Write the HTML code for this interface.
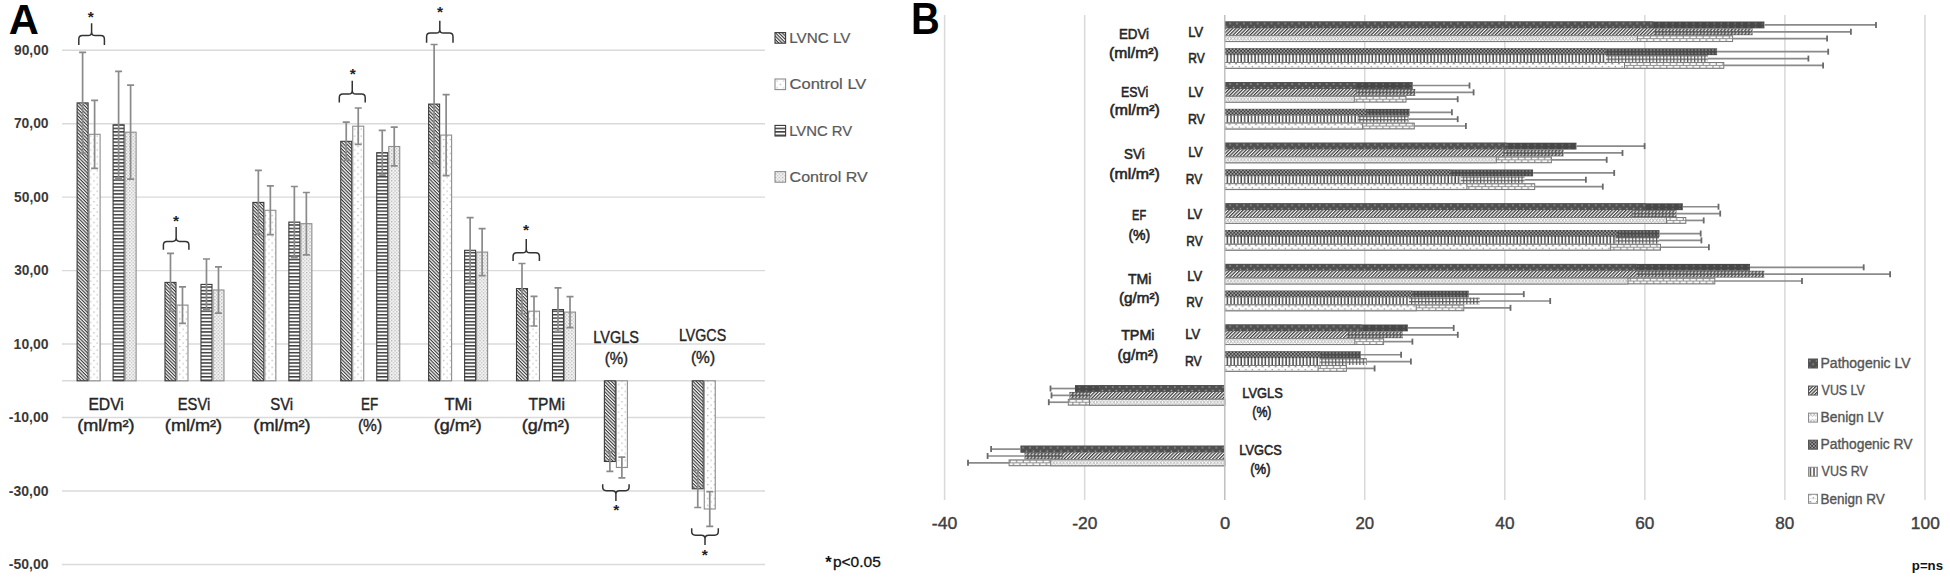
<!DOCTYPE html>
<html><head><meta charset="utf-8"><title>Figure</title>
<style>html,body{margin:0;padding:0;background:#fff;} svg{display:block;}</style></head>
<body><svg width="1950" height="580" viewBox="0 0 1950 580" font-family="'Liberation Sans', Arial, sans-serif">
<defs>
<pattern id="aLL" patternUnits="userSpaceOnUse" width="2.4" height="2.4" patternTransform="rotate(45)">
  <rect width="2.4" height="2.4" fill="#f6f6f6"/><rect y="0" width="2.4" height="1.08" fill="#363636"/></pattern>
<pattern id="aCL" patternUnits="userSpaceOnUse" width="6.6" height="6.9">
  <rect width="6.6" height="6.9" fill="#fff"/><rect x="1" y="1" width="1.2" height="1.2" fill="#aaa"/><rect x="4.3" y="4.4" width="1.2" height="1.2" fill="#b5b5b5"/></pattern>
<pattern id="aLR" patternUnits="userSpaceOnUse" width="3.45" height="3.45">
  <rect width="3.45" height="3.45" fill="#fff"/><rect y="0" width="3.45" height="1.5" fill="#3c3c3c"/></pattern>
<pattern id="aCR" patternUnits="userSpaceOnUse" width="3.4" height="3.4">
  <rect width="3.4" height="3.4" fill="#f4f4f4"/><rect x="0" y="0" width="1.3" height="1.3" fill="#b0b0b0"/><rect x="1.7" y="1.7" width="1.3" height="1.3" fill="#c4c4c4"/></pattern>

<pattern id="F1" patternUnits="userSpaceOnUse" width="6.9" height="6.9" y="0">
  <rect width="6.9" height="6.9" fill="#505050"/><rect x="1.2" y="1.3" width="1.4" height="1.4" fill="#a5a5a5"/><rect x="4.65" y="4.75" width="1.4" height="1.4" fill="#a5a5a5"/></pattern>
<pattern id="F2" patternUnits="userSpaceOnUse" width="2.44" height="3" patternTransform="rotate(45)">
  <rect width="2.44" height="3" fill="#fafafa"/><rect x="0" width="1.25" height="3" fill="#3d3d3d"/></pattern>
<pattern id="F3" patternUnits="userSpaceOnUse" width="6.7" height="6.85">
  <rect width="6.7" height="6.85" fill="#fff"/><path d="M0 1.2 L3.35 5.6 L6.7 1.2 M0 5.6 L3.35 1.2 L6.7 5.6" stroke="#a8a8a8" stroke-width="0.8" fill="none"/></pattern>
<pattern id="F4" patternUnits="userSpaceOnUse" width="3.45" height="3.45">
  <rect width="3.45" height="3.45" fill="#9c9c9c"/><rect width="1.725" height="1.725" fill="#3e3e3e"/><rect x="1.725" y="1.725" width="1.725" height="1.725" fill="#3e3e3e"/></pattern>
<pattern id="F5" patternUnits="userSpaceOnUse" width="3.45" height="3.45">
  <rect width="3.45" height="3.45" fill="#fcfcfc"/><rect x="2" width="1.45" height="3.45" fill="#464646"/></pattern>
<pattern id="F6" patternUnits="userSpaceOnUse" width="6.6" height="6.85">
  <rect width="6.6" height="6.85" fill="#fff"/><path d="M0.8 2.3 L1.9 1.3 L3.0 2.3" stroke="#666" stroke-width="0.9" fill="none"/><rect x="4.4" y="4.0" width="1.3" height="1.3" fill="#888"/><rect x="0" y="5.4" width="6.6" height="0.6" fill="#d0d0d0"/></pattern>

<pattern id="K1" patternUnits="userSpaceOnUse" width="6.9" height="6.9">
  <rect width="6.9" height="6.9" fill="#474747"/><rect x="2.5" y="1.6" width="1.2" height="1.2" fill="#8c8c8c"/><rect x="2.5" y="5" width="1.2" height="1.2" fill="#7c7c7c"/></pattern>
<pattern id="K2" patternUnits="userSpaceOnUse" width="3.45" height="3.45">
  <rect width="3.45" height="3.45" fill="#575757"/><path d="M0.6 2.6 L2.4 0.9" stroke="#f0f0f0" stroke-width="1.1"/></pattern>
<pattern id="K3" patternUnits="userSpaceOnUse" width="6.6" height="6.85">
  <rect width="6.6" height="6.85" fill="#929292"/><rect x="0.9" y="1.05" width="5.4" height="1.9" fill="#fcfcfc"/><rect x="-2.4" y="3.95" width="5.4" height="1.9" fill="#fcfcfc"/><rect x="4.2" y="3.95" width="5.4" height="1.9" fill="#fcfcfc"/></pattern>
<pattern id="K4" patternUnits="userSpaceOnUse" width="3.45" height="3.45">
  <rect width="3.45" height="3.45" fill="#4a4a4a"/><rect x="1" y="1" width="1.45" height="1.45" fill="#8e8e8e"/></pattern>
<pattern id="K5" patternUnits="userSpaceOnUse" width="3.45" height="3.425">
  <rect width="3.45" height="3.425" fill="#f8f8f8"/><rect x="0" y="0" width="3.45" height="1.2" fill="#5a5a5a"/><rect x="0" y="0" width="1.2" height="3.425" fill="#5a5a5a"/></pattern>
</defs>
<rect width="1950" height="580" fill="#fff"/>
<line x1="62" y1="50.23" x2="765" y2="50.23" stroke="#dadada" stroke-width="1.4"/>
<line x1="62" y1="123.69" x2="765" y2="123.69" stroke="#dadada" stroke-width="1.4"/>
<line x1="62" y1="197.15" x2="765" y2="197.15" stroke="#dadada" stroke-width="1.4"/>
<line x1="62" y1="270.61" x2="765" y2="270.61" stroke="#dadada" stroke-width="1.4"/>
<line x1="62" y1="344.07" x2="765" y2="344.07" stroke="#dadada" stroke-width="1.4"/>
<line x1="62" y1="417.53" x2="765" y2="417.53" stroke="#dadada" stroke-width="1.4"/>
<line x1="62" y1="490.99" x2="765" y2="490.99" stroke="#dadada" stroke-width="1.4"/>
<line x1="62" y1="564.45" x2="765" y2="564.45" stroke="#dadada" stroke-width="1.4"/>
<line x1="62" y1="380.80" x2="765" y2="380.80" stroke="#dadada" stroke-width="1.4"/>
<text x="14.02" y="54.93" font-size="13.90" font-weight="bold" fill="#3a3a3a" textLength="34.54" lengthAdjust="spacingAndGlyphs">90,00</text>
<text x="13.90" y="128.39" font-size="13.90" font-weight="bold" fill="#3a3a3a" textLength="34.66" lengthAdjust="spacingAndGlyphs">70,00</text>
<text x="14.08" y="201.85" font-size="13.90" font-weight="bold" fill="#3a3a3a" textLength="34.49" lengthAdjust="spacingAndGlyphs">50,00</text>
<text x="14.18" y="275.31" font-size="13.90" font-weight="bold" fill="#3a3a3a" textLength="34.38" lengthAdjust="spacingAndGlyphs">30,00</text>
<text x="13.62" y="348.77" font-size="13.90" font-weight="bold" fill="#3a3a3a" textLength="34.95" lengthAdjust="spacingAndGlyphs">10,00</text>
<text x="8.85" y="422.23" font-size="13.90" font-weight="bold" fill="#3a3a3a" textLength="39.72" lengthAdjust="spacingAndGlyphs">-10,00</text>
<text x="8.85" y="495.69" font-size="13.90" font-weight="bold" fill="#3a3a3a" textLength="39.72" lengthAdjust="spacingAndGlyphs">-30,00</text>
<text x="8.85" y="569.15" font-size="13.90" font-weight="bold" fill="#3a3a3a" textLength="39.72" lengthAdjust="spacingAndGlyphs">-50,00</text>
<rect x="77.10" y="102.90" width="11" height="277.90" fill="url(#aLL)" stroke="#3a3a3a" stroke-width="1.1"/>
<rect x="89.10" y="134.30" width="11" height="246.50" fill="url(#aCL)" stroke="#8c8c8c" stroke-width="1.1"/>
<rect x="113.10" y="124.80" width="11" height="256.00" fill="url(#aLR)" stroke="#3a3a3a" stroke-width="1.1"/>
<rect x="125.10" y="132.20" width="11" height="248.60" fill="url(#aCR)" stroke="#8c8c8c" stroke-width="1.1"/>
<rect x="164.98" y="282.40" width="11" height="98.40" fill="url(#aLL)" stroke="#3a3a3a" stroke-width="1.1"/>
<rect x="176.98" y="305.10" width="11" height="75.70" fill="url(#aCL)" stroke="#8c8c8c" stroke-width="1.1"/>
<rect x="200.98" y="284.40" width="11" height="96.40" fill="url(#aLR)" stroke="#3a3a3a" stroke-width="1.1"/>
<rect x="212.98" y="290.00" width="11" height="90.80" fill="url(#aCR)" stroke="#8c8c8c" stroke-width="1.1"/>
<rect x="252.86" y="202.40" width="11" height="178.40" fill="url(#aLL)" stroke="#3a3a3a" stroke-width="1.1"/>
<rect x="264.86" y="210.30" width="11" height="170.50" fill="url(#aCL)" stroke="#8c8c8c" stroke-width="1.1"/>
<rect x="288.86" y="222.10" width="11" height="158.70" fill="url(#aLR)" stroke="#3a3a3a" stroke-width="1.1"/>
<rect x="300.86" y="223.70" width="11" height="157.10" fill="url(#aCR)" stroke="#8c8c8c" stroke-width="1.1"/>
<rect x="340.74" y="141.30" width="11" height="239.50" fill="url(#aLL)" stroke="#3a3a3a" stroke-width="1.1"/>
<rect x="352.74" y="126.20" width="11" height="254.60" fill="url(#aCL)" stroke="#8c8c8c" stroke-width="1.1"/>
<rect x="376.74" y="152.70" width="11" height="228.10" fill="url(#aLR)" stroke="#3a3a3a" stroke-width="1.1"/>
<rect x="388.74" y="146.50" width="11" height="234.30" fill="url(#aCR)" stroke="#8c8c8c" stroke-width="1.1"/>
<rect x="428.62" y="104.10" width="11" height="276.70" fill="url(#aLL)" stroke="#3a3a3a" stroke-width="1.1"/>
<rect x="440.62" y="135.10" width="11" height="245.70" fill="url(#aCL)" stroke="#8c8c8c" stroke-width="1.1"/>
<rect x="464.62" y="250.30" width="11" height="130.50" fill="url(#aLR)" stroke="#3a3a3a" stroke-width="1.1"/>
<rect x="476.62" y="252.10" width="11" height="128.70" fill="url(#aCR)" stroke="#8c8c8c" stroke-width="1.1"/>
<rect x="516.50" y="288.60" width="11" height="92.20" fill="url(#aLL)" stroke="#3a3a3a" stroke-width="1.1"/>
<rect x="528.50" y="311.20" width="11" height="69.60" fill="url(#aCL)" stroke="#8c8c8c" stroke-width="1.1"/>
<rect x="552.50" y="309.60" width="11" height="71.20" fill="url(#aLR)" stroke="#3a3a3a" stroke-width="1.1"/>
<rect x="564.50" y="312.10" width="11" height="68.70" fill="url(#aCR)" stroke="#8c8c8c" stroke-width="1.1"/>
<rect x="604.38" y="380.80" width="11" height="80.70" fill="url(#aLL)" stroke="#3a3a3a" stroke-width="1.1"/>
<rect x="616.38" y="380.80" width="11" height="86.70" fill="url(#aCL)" stroke="#8c8c8c" stroke-width="1.1"/>
<rect x="692.26" y="380.80" width="11" height="108.00" fill="url(#aLL)" stroke="#3a3a3a" stroke-width="1.1"/>
<rect x="704.26" y="380.80" width="11" height="128.20" fill="url(#aCL)" stroke="#8c8c8c" stroke-width="1.1"/>
<path d="M82.60 52.40 V153.40 M79.10 52.40 H86.10 M79.10 153.40 H86.10" stroke="#8a8a8a" stroke-width="1.7" fill="none"/>
<path d="M94.60 100.30 V168.30 M91.10 100.30 H98.10 M91.10 168.30 H98.10" stroke="#8a8a8a" stroke-width="1.7" fill="none"/>
<path d="M118.60 71.40 V178.20 M115.10 71.40 H122.10 M115.10 178.20 H122.10" stroke="#8a8a8a" stroke-width="1.7" fill="none"/>
<path d="M130.60 85.20 V179.20 M127.10 85.20 H134.10 M127.10 179.20 H134.10" stroke="#8a8a8a" stroke-width="1.7" fill="none"/>
<path d="M170.48 253.40 V311.40 M166.98 253.40 H173.98 M166.98 311.40 H173.98" stroke="#8a8a8a" stroke-width="1.7" fill="none"/>
<path d="M182.48 286.90 V323.30 M178.98 286.90 H185.98 M178.98 323.30 H185.98" stroke="#8a8a8a" stroke-width="1.7" fill="none"/>
<path d="M206.48 259.00 V309.80 M202.98 259.00 H209.98 M202.98 309.80 H209.98" stroke="#8a8a8a" stroke-width="1.7" fill="none"/>
<path d="M218.48 266.80 V313.20 M214.98 266.80 H221.98 M214.98 313.20 H221.98" stroke="#8a8a8a" stroke-width="1.7" fill="none"/>
<path d="M258.36 170.30 V234.50 M254.86 170.30 H261.86 M254.86 234.50 H261.86" stroke="#8a8a8a" stroke-width="1.7" fill="none"/>
<path d="M270.36 185.90 V234.70 M266.86 185.90 H273.86 M266.86 234.70 H273.86" stroke="#8a8a8a" stroke-width="1.7" fill="none"/>
<path d="M294.36 186.50 V257.70 M290.86 186.50 H297.86 M290.86 257.70 H297.86" stroke="#8a8a8a" stroke-width="1.7" fill="none"/>
<path d="M306.36 192.50 V254.90 M302.86 192.50 H309.86 M302.86 254.90 H309.86" stroke="#8a8a8a" stroke-width="1.7" fill="none"/>
<path d="M346.24 122.10 V160.50 M342.74 122.10 H349.74 M342.74 160.50 H349.74" stroke="#8a8a8a" stroke-width="1.7" fill="none"/>
<path d="M358.24 108.00 V144.40 M354.74 108.00 H361.74 M354.74 144.40 H361.74" stroke="#8a8a8a" stroke-width="1.7" fill="none"/>
<path d="M382.24 130.30 V175.10 M378.74 130.30 H385.74 M378.74 175.10 H385.74" stroke="#8a8a8a" stroke-width="1.7" fill="none"/>
<path d="M394.24 127.20 V165.80 M390.74 127.20 H397.74 M390.74 165.80 H397.74" stroke="#8a8a8a" stroke-width="1.7" fill="none"/>
<path d="M434.12 44.50 V163.70 M430.62 44.50 H437.62 M430.62 163.70 H437.62" stroke="#8a8a8a" stroke-width="1.7" fill="none"/>
<path d="M446.12 94.60 V175.60 M442.62 94.60 H449.62 M442.62 175.60 H449.62" stroke="#8a8a8a" stroke-width="1.7" fill="none"/>
<path d="M470.12 217.60 V283.00 M466.62 217.60 H473.62 M466.62 283.00 H473.62" stroke="#8a8a8a" stroke-width="1.7" fill="none"/>
<path d="M482.12 228.60 V275.60 M478.62 228.60 H485.62 M478.62 275.60 H485.62" stroke="#8a8a8a" stroke-width="1.7" fill="none"/>
<path d="M522.00 263.50 V313.70 M518.50 263.50 H525.50 M518.50 313.70 H525.50" stroke="#8a8a8a" stroke-width="1.7" fill="none"/>
<path d="M534.00 296.40 V326.00 M530.50 296.40 H537.50 M530.50 326.00 H537.50" stroke="#8a8a8a" stroke-width="1.7" fill="none"/>
<path d="M558.00 287.90 V331.30 M554.50 287.90 H561.50 M554.50 331.30 H561.50" stroke="#8a8a8a" stroke-width="1.7" fill="none"/>
<path d="M570.00 296.60 V327.60 M566.50 296.60 H573.50 M566.50 327.60 H573.50" stroke="#8a8a8a" stroke-width="1.7" fill="none"/>
<path d="M609.88 471.40 V451.60 M606.38 471.40 H613.38 M606.38 451.60 H613.38" stroke="#8a8a8a" stroke-width="1.7" fill="none"/>
<path d="M621.88 477.80 V457.20 M618.38 477.80 H625.38 M618.38 457.20 H625.38" stroke="#8a8a8a" stroke-width="1.7" fill="none"/>
<path d="M697.76 507.50 V470.10 M694.26 507.50 H701.26 M694.26 470.10 H701.26" stroke="#8a8a8a" stroke-width="1.7" fill="none"/>
<path d="M709.76 526.40 V491.60 M706.26 526.40 H713.26 M706.26 491.60 H713.26" stroke="#8a8a8a" stroke-width="1.7" fill="none"/>
<path d="M78.80 45.00 L78.80 39.20 Q78.80 35.60 82.40 35.60 L88.00 35.60 Q91.60 35.60 91.60 32.00 L91.60 23.20 M91.60 32.00 Q91.60 35.60 95.20 35.60 L100.80 35.60 Q104.40 35.60 104.40 39.20 L104.40 45.00" stroke="#333" stroke-width="1.5" fill="none"/>
<text x="90.80" y="22.28" font-size="15.5" font-weight="bold" text-anchor="middle" fill="#222">*</text>
<path d="M163.40 249.70 L163.40 245.00 Q163.40 241.40 167.00 241.40 L172.55 241.40 Q176.15 241.40 176.15 237.80 L176.15 226.90 M176.15 237.80 Q176.15 241.40 179.75 241.40 L185.30 241.40 Q188.90 241.40 188.90 245.00 L188.90 249.70" stroke="#333" stroke-width="1.5" fill="none"/>
<text x="175.90" y="225.68" font-size="15.5" font-weight="bold" text-anchor="middle" fill="#222">*</text>
<path d="M339.30 102.40 L339.30 97.70 Q339.30 94.10 342.90 94.10 L348.65 94.10 Q352.25 94.10 352.25 90.50 L352.25 80.70 M352.25 90.50 Q352.25 94.10 355.85 94.10 L361.60 94.10 Q365.20 94.10 365.20 97.70 L365.20 102.40" stroke="#333" stroke-width="1.5" fill="none"/>
<text x="352.80" y="79.48" font-size="15.5" font-weight="bold" text-anchor="middle" fill="#222">*</text>
<path d="M426.60 42.80 L426.60 36.70 Q426.60 33.10 430.20 33.10 L436.20 33.10 Q439.80 33.10 439.80 29.50 L439.80 20.70 M439.80 29.50 Q439.80 33.10 443.40 33.10 L449.40 33.10 Q453.00 33.10 453.00 36.70 L453.00 42.80" stroke="#333" stroke-width="1.5" fill="none"/>
<text x="440.00" y="16.88" font-size="15.5" font-weight="bold" text-anchor="middle" fill="#222">*</text>
<path d="M513.10 261.00 L513.10 256.40 Q513.10 252.80 516.70 252.80 L522.65 252.80 Q526.25 252.80 526.25 249.20 L526.25 238.90 M526.25 249.20 Q526.25 252.80 529.85 252.80 L535.80 252.80 Q539.40 252.80 539.40 256.40 L539.40 261.00" stroke="#333" stroke-width="1.5" fill="none"/>
<text x="526.10" y="234.98" font-size="15.5" font-weight="bold" text-anchor="middle" fill="#222">*</text>
<path d="M602.70 484.30 L602.70 487.10 Q602.70 490.70 606.30 490.70 L612.30 490.70 Q615.90 490.70 615.90 494.30 L615.90 501.10 M615.90 494.30 Q615.90 490.70 619.50 490.70 L625.50 490.70 Q629.10 490.70 629.10 487.10 L629.10 484.30" stroke="#333" stroke-width="1.5" fill="none"/>
<text x="616.20" y="515.08" font-size="15.5" font-weight="bold" text-anchor="middle" fill="#222">*</text>
<path d="M691.70 528.20 L691.70 531.60 Q691.70 535.20 695.30 535.20 L701.40 535.20 Q705.00 535.20 705.00 538.80 L705.00 545.00 M705.00 538.80 Q705.00 535.20 708.60 535.20 L714.70 535.20 Q718.30 535.20 718.30 531.60 L718.30 528.20" stroke="#333" stroke-width="1.5" fill="none"/>
<text x="704.80" y="559.88" font-size="15.5" font-weight="bold" text-anchor="middle" fill="#222">*</text>
<text x="88.42" y="409.50" font-size="16.20" font-weight="normal" fill="#262626" textLength="35.42" lengthAdjust="spacingAndGlyphs" stroke="#262626" stroke-width="0.4">EDVi</text>
<text x="77.28" y="431.10" font-size="16.20" font-weight="normal" fill="#262626" textLength="57.24" lengthAdjust="spacingAndGlyphs" stroke="#262626" stroke-width="0.4">(ml/m²)</text>
<text x="177.80" y="409.50" font-size="16.20" font-weight="normal" fill="#262626" textLength="32.48" lengthAdjust="spacingAndGlyphs" stroke="#262626" stroke-width="0.4">ESVi</text>
<text x="164.88" y="431.10" font-size="16.20" font-weight="normal" fill="#262626" textLength="57.24" lengthAdjust="spacingAndGlyphs" stroke="#262626" stroke-width="0.4">(ml/m²)</text>
<text x="270.23" y="409.50" font-size="16.20" font-weight="normal" fill="#262626" textLength="22.96" lengthAdjust="spacingAndGlyphs" stroke="#262626" stroke-width="0.4">SVi</text>
<text x="253.38" y="431.10" font-size="16.20" font-weight="normal" fill="#262626" textLength="57.24" lengthAdjust="spacingAndGlyphs" stroke="#262626" stroke-width="0.4">(ml/m²)</text>
<text x="361.09" y="409.50" font-size="16.20" font-weight="normal" fill="#262626" textLength="17.25" lengthAdjust="spacingAndGlyphs" stroke="#262626" stroke-width="0.4">EF</text>
<text x="357.94" y="431.10" font-size="16.20" font-weight="normal" fill="#262626" textLength="24.12" lengthAdjust="spacingAndGlyphs" stroke="#262626" stroke-width="0.4">(%)</text>
<text x="444.53" y="409.50" font-size="16.20" font-weight="normal" fill="#262626" textLength="27.48" lengthAdjust="spacingAndGlyphs" stroke="#262626" stroke-width="0.4">TMi</text>
<text x="433.79" y="431.10" font-size="16.20" font-weight="normal" fill="#262626" textLength="47.82" lengthAdjust="spacingAndGlyphs" stroke="#262626" stroke-width="0.4">(g/m²)</text>
<text x="528.55" y="409.50" font-size="16.20" font-weight="normal" fill="#262626" textLength="36.30" lengthAdjust="spacingAndGlyphs" stroke="#262626" stroke-width="0.4">TPMi</text>
<text x="521.79" y="431.10" font-size="16.20" font-weight="normal" fill="#262626" textLength="47.82" lengthAdjust="spacingAndGlyphs" stroke="#262626" stroke-width="0.4">(g/m²)</text>
<text x="593.34" y="343.10" font-size="16.20" font-weight="normal" fill="#262626" textLength="45.61" lengthAdjust="spacingAndGlyphs" stroke="#262626" stroke-width="0.4">LVGLS</text>
<text x="604.66" y="363.80" font-size="16.20" font-weight="normal" fill="#262626" textLength="23.47" lengthAdjust="spacingAndGlyphs" stroke="#262626" stroke-width="0.4">(%)</text>
<text x="678.96" y="340.90" font-size="16.20" font-weight="normal" fill="#262626" textLength="47.18" lengthAdjust="spacingAndGlyphs" stroke="#262626" stroke-width="0.4">LVGCS</text>
<text x="690.94" y="363.00" font-size="16.20" font-weight="normal" fill="#262626" textLength="24.12" lengthAdjust="spacingAndGlyphs" stroke="#262626" stroke-width="0.4">(%)</text>
<rect x="775" y="32.60" width="10.6" height="10.6" fill="url(#aLL)" stroke="#3a3a3a" stroke-width="1.1"/>
<text x="789.19" y="42.80" font-size="14.50" font-weight="normal" fill="#595959" textLength="61.27" lengthAdjust="spacingAndGlyphs" stroke="#595959" stroke-width="0.2">LVNC LV</text>
<rect x="775" y="79.00" width="10.6" height="10.6" fill="url(#aCL)" stroke="#8c8c8c" stroke-width="1.1"/>
<text x="789.57" y="89.20" font-size="14.50" font-weight="normal" fill="#595959" textLength="76.80" lengthAdjust="spacingAndGlyphs" stroke="#595959" stroke-width="0.2">Control LV</text>
<rect x="775" y="125.40" width="10.6" height="10.6" fill="url(#aLR)" stroke="#3a3a3a" stroke-width="1.1"/>
<text x="789.21" y="135.60" font-size="14.50" font-weight="normal" fill="#595959" textLength="62.96" lengthAdjust="spacingAndGlyphs" stroke="#595959" stroke-width="0.2">LVNC RV</text>
<rect x="775" y="171.60" width="10.6" height="10.6" fill="url(#aCR)" stroke="#8c8c8c" stroke-width="1.1"/>
<text x="789.59" y="181.80" font-size="14.50" font-weight="normal" fill="#595959" textLength="78.18" lengthAdjust="spacingAndGlyphs" stroke="#595959" stroke-width="0.2">Control RV</text>
<text x="8.76" y="33.90" font-size="43.30" font-weight="bold" fill="#000" textLength="30.14" lengthAdjust="spacingAndGlyphs">A</text>
<text x="832.95" y="567.00" font-size="15.20" font-weight="normal" fill="#111" textLength="47.85" lengthAdjust="spacingAndGlyphs" stroke="#111" stroke-width="0.3">p&lt;0.05</text>
<text x="828.4" y="567.8" font-size="16.5" font-weight="bold" text-anchor="middle" fill="#111">*</text>
<line x1="944.60" y1="15" x2="944.60" y2="500" stroke="#d9d9d9" stroke-width="1.5"/>
<line x1="1084.65" y1="15" x2="1084.65" y2="500" stroke="#d9d9d9" stroke-width="1.5"/>
<line x1="1224.70" y1="15" x2="1224.70" y2="500" stroke="#d9d9d9" stroke-width="1.5"/>
<line x1="1364.75" y1="15" x2="1364.75" y2="500" stroke="#d9d9d9" stroke-width="1.5"/>
<line x1="1504.80" y1="15" x2="1504.80" y2="500" stroke="#d9d9d9" stroke-width="1.5"/>
<line x1="1644.85" y1="15" x2="1644.85" y2="500" stroke="#d9d9d9" stroke-width="1.5"/>
<line x1="1784.90" y1="15" x2="1784.90" y2="500" stroke="#d9d9d9" stroke-width="1.5"/>
<line x1="1924.95" y1="15" x2="1924.95" y2="500" stroke="#d9d9d9" stroke-width="1.5"/>
<rect transform="translate(0 21.50)" x="1224.70" y="0" width="539.70" height="6.85" fill="url(#K1)"/>
<rect transform="translate(0 21.50)" x="1224.70" y="0" width="428.80" height="6.85" fill="url(#F1)"/>
<rect transform="translate(0 28.35)" x="1224.70" y="0" width="527.90" height="6.85" fill="url(#K2)"/>
<rect transform="translate(0 28.35)" x="1224.70" y="0" width="429.60" height="6.85" fill="url(#F2)"/>
<rect transform="translate(0 35.20)" x="1224.70" y="0.5" width="507.90" height="5.85" fill="url(#K3)" stroke="#7a7a7a" stroke-width="1"/>
<rect transform="translate(0 35.20)" x="1224.70" y="0.5" width="412.70" height="5.85" fill="url(#F3)" stroke="#7a7a7a" stroke-width="1"/>
<rect transform="translate(0 48.30)" x="1224.70" y="0" width="492.40" height="6.85" fill="url(#K4)"/>
<rect transform="translate(0 48.30)" x="1224.70" y="0" width="380.60" height="6.85" fill="url(#F4)"/>
<rect transform="translate(0 55.15)" x="1224.70" y="0" width="483.10" height="6.85" fill="url(#K5)"/>
<rect transform="translate(0 55.15)" x="1224.70" y="0" width="381.20" height="6.85" fill="url(#F5)"/>
<rect transform="translate(0 62.00)" x="1224.70" y="0.5" width="499.10" height="5.85" fill="url(#K3)" stroke="#7a7a7a" stroke-width="1"/>
<rect transform="translate(0 62.00)" x="1224.70" y="0.5" width="399.80" height="5.85" fill="url(#F6)" stroke="#7a7a7a" stroke-width="1"/>
<rect transform="translate(0 82.10)" x="1224.70" y="0" width="188.00" height="6.85" fill="url(#K1)"/>
<rect transform="translate(0 82.10)" x="1224.70" y="0" width="131.70" height="6.85" fill="url(#F1)"/>
<rect transform="translate(0 88.95)" x="1224.70" y="0" width="190.60" height="6.85" fill="url(#K2)"/>
<rect transform="translate(0 88.95)" x="1224.70" y="0" width="131.10" height="6.85" fill="url(#F2)"/>
<rect transform="translate(0 95.80)" x="1224.70" y="0.5" width="181.30" height="5.85" fill="url(#K3)" stroke="#7a7a7a" stroke-width="1"/>
<rect transform="translate(0 95.80)" x="1224.70" y="0.5" width="129.60" height="5.85" fill="url(#F3)" stroke="#7a7a7a" stroke-width="1"/>
<rect transform="translate(0 108.90)" x="1224.70" y="0" width="184.90" height="6.85" fill="url(#K4)"/>
<rect transform="translate(0 108.90)" x="1224.70" y="0" width="141.50" height="6.85" fill="url(#F4)"/>
<rect transform="translate(0 115.75)" x="1224.70" y="0" width="183.90" height="6.85" fill="url(#K5)"/>
<rect transform="translate(0 115.75)" x="1224.70" y="0" width="133.70" height="6.85" fill="url(#F5)"/>
<rect transform="translate(0 122.60)" x="1224.70" y="0.5" width="189.60" height="5.85" fill="url(#K3)" stroke="#7a7a7a" stroke-width="1"/>
<rect transform="translate(0 122.60)" x="1224.70" y="0.5" width="137.90" height="5.85" fill="url(#F6)" stroke="#7a7a7a" stroke-width="1"/>
<rect transform="translate(0 142.70)" x="1224.70" y="0" width="351.80" height="6.85" fill="url(#K1)"/>
<rect transform="translate(0 142.70)" x="1224.70" y="0" width="281.90" height="6.85" fill="url(#F1)"/>
<rect transform="translate(0 149.55)" x="1224.70" y="0" width="338.90" height="6.85" fill="url(#K2)"/>
<rect transform="translate(0 149.55)" x="1224.70" y="0" width="278.60" height="6.85" fill="url(#F2)"/>
<rect transform="translate(0 156.40)" x="1224.70" y="0.5" width="326.70" height="5.85" fill="url(#K3)" stroke="#7a7a7a" stroke-width="1"/>
<rect transform="translate(0 156.40)" x="1224.70" y="0.5" width="271.60" height="5.85" fill="url(#F3)" stroke="#7a7a7a" stroke-width="1"/>
<rect transform="translate(0 169.50)" x="1224.70" y="0" width="308.40" height="6.85" fill="url(#K4)"/>
<rect transform="translate(0 169.50)" x="1224.70" y="0" width="225.60" height="6.85" fill="url(#F4)"/>
<rect transform="translate(0 176.35)" x="1224.70" y="0" width="299.90" height="6.85" fill="url(#K5)"/>
<rect transform="translate(0 176.35)" x="1224.70" y="0" width="236.00" height="6.85" fill="url(#F5)"/>
<rect transform="translate(0 183.20)" x="1224.70" y="0.5" width="310.00" height="5.85" fill="url(#K3)" stroke="#7a7a7a" stroke-width="1"/>
<rect transform="translate(0 183.20)" x="1224.70" y="0.5" width="242.20" height="5.85" fill="url(#F6)" stroke="#7a7a7a" stroke-width="1"/>
<rect transform="translate(0 203.30)" x="1224.70" y="0" width="458.10" height="6.85" fill="url(#K1)"/>
<rect transform="translate(0 203.30)" x="1224.70" y="0" width="421.30" height="6.85" fill="url(#F1)"/>
<rect transform="translate(0 210.15)" x="1224.70" y="0" width="451.80" height="6.85" fill="url(#K2)"/>
<rect transform="translate(0 210.15)" x="1224.70" y="0" width="407.00" height="6.85" fill="url(#F2)"/>
<rect transform="translate(0 217.00)" x="1224.70" y="0.5" width="461.10" height="5.85" fill="url(#K3)" stroke="#7a7a7a" stroke-width="1"/>
<rect transform="translate(0 217.00)" x="1224.70" y="0.5" width="441.80" height="5.85" fill="url(#F3)" stroke="#7a7a7a" stroke-width="1"/>
<rect transform="translate(0 230.10)" x="1224.70" y="0" width="434.80" height="6.85" fill="url(#K4)"/>
<rect transform="translate(0 230.10)" x="1224.70" y="0" width="392.90" height="6.85" fill="url(#F4)"/>
<rect transform="translate(0 236.95)" x="1224.70" y="0" width="434.30" height="6.85" fill="url(#K5)"/>
<rect transform="translate(0 236.95)" x="1224.70" y="0" width="390.80" height="6.85" fill="url(#F5)"/>
<rect transform="translate(0 243.80)" x="1224.70" y="0.5" width="435.80" height="5.85" fill="url(#K3)" stroke="#7a7a7a" stroke-width="1"/>
<rect transform="translate(0 243.80)" x="1224.70" y="0.5" width="385.70" height="5.85" fill="url(#F6)" stroke="#7a7a7a" stroke-width="1"/>
<rect transform="translate(0 263.90)" x="1224.70" y="0" width="525.30" height="6.85" fill="url(#K1)"/>
<rect transform="translate(0 263.90)" x="1224.70" y="0" width="412.00" height="6.85" fill="url(#F1)"/>
<rect transform="translate(0 270.75)" x="1224.70" y="0" width="539.70" height="6.85" fill="url(#K2)"/>
<rect transform="translate(0 270.75)" x="1224.70" y="0" width="412.00" height="6.85" fill="url(#F2)"/>
<rect transform="translate(0 277.60)" x="1224.70" y="0.5" width="490.10" height="5.85" fill="url(#K3)" stroke="#7a7a7a" stroke-width="1"/>
<rect transform="translate(0 277.60)" x="1224.70" y="0.5" width="403.30" height="5.85" fill="url(#F3)" stroke="#7a7a7a" stroke-width="1"/>
<rect transform="translate(0 290.70)" x="1224.70" y="0" width="244.10" height="6.85" fill="url(#K4)"/>
<rect transform="translate(0 290.70)" x="1224.70" y="0" width="187.40" height="6.85" fill="url(#F4)"/>
<rect transform="translate(0 297.55)" x="1224.70" y="0" width="255.10" height="6.85" fill="url(#K5)"/>
<rect transform="translate(0 297.55)" x="1224.70" y="0" width="184.30" height="6.85" fill="url(#F5)"/>
<rect transform="translate(0 304.40)" x="1224.70" y="0.5" width="239.10" height="5.85" fill="url(#K3)" stroke="#7a7a7a" stroke-width="1"/>
<rect transform="translate(0 304.40)" x="1224.70" y="0.5" width="191.50" height="5.85" fill="url(#F6)" stroke="#7a7a7a" stroke-width="1"/>
<rect transform="translate(0 324.50)" x="1224.70" y="0" width="183.10" height="6.85" fill="url(#K1)"/>
<rect transform="translate(0 324.50)" x="1224.70" y="0" width="136.90" height="6.85" fill="url(#F1)"/>
<rect transform="translate(0 331.35)" x="1224.70" y="0" width="178.30" height="6.85" fill="url(#K2)"/>
<rect transform="translate(0 331.35)" x="1224.70" y="0" width="122.60" height="6.85" fill="url(#F2)"/>
<rect transform="translate(0 338.20)" x="1224.70" y="0.5" width="158.90" height="5.85" fill="url(#K3)" stroke="#7a7a7a" stroke-width="1"/>
<rect transform="translate(0 338.20)" x="1224.70" y="0.5" width="130.10" height="5.85" fill="url(#F3)" stroke="#7a7a7a" stroke-width="1"/>
<rect transform="translate(0 351.30)" x="1224.70" y="0" width="136.10" height="6.85" fill="url(#K4)"/>
<rect transform="translate(0 351.30)" x="1224.70" y="0" width="95.70" height="6.85" fill="url(#F4)"/>
<rect transform="translate(0 358.15)" x="1224.70" y="0" width="142.00" height="6.85" fill="url(#K5)"/>
<rect transform="translate(0 358.15)" x="1224.70" y="0" width="95.10" height="6.85" fill="url(#F5)"/>
<rect transform="translate(0 365.00)" x="1224.70" y="0.5" width="121.70" height="5.85" fill="url(#K3)" stroke="#7a7a7a" stroke-width="1"/>
<rect transform="translate(0 365.00)" x="1224.70" y="0.5" width="93.40" height="5.85" fill="url(#F6)" stroke="#7a7a7a" stroke-width="1"/>
<rect transform="translate(0 385.10)" x="1075.00" y="0" width="149.70" height="6.85" fill="url(#K1)"/>
<rect transform="translate(0 385.10)" x="1099.50" y="0" width="125.20" height="6.85" fill="url(#F1)"/>
<rect transform="translate(0 391.95)" x="1069.40" y="0" width="155.30" height="6.85" fill="url(#K2)"/>
<rect transform="translate(0 391.95)" x="1090.00" y="0" width="134.70" height="6.85" fill="url(#F2)"/>
<rect transform="translate(0 398.80)" x="1068.30" y="0.5" width="156.40" height="5.85" fill="url(#K3)" stroke="#7a7a7a" stroke-width="1"/>
<rect transform="translate(0 398.80)" x="1089.50" y="0.5" width="135.20" height="5.85" fill="url(#F3)" stroke="#7a7a7a" stroke-width="1"/>
<rect transform="translate(0 445.70)" x="1020.60" y="0" width="204.10" height="6.85" fill="url(#K1)"/>
<rect transform="translate(0 445.70)" x="1020.60" y="0" width="204.10" height="6.85" fill="url(#F1)"/>
<rect transform="translate(0 452.55)" x="1024.50" y="0" width="200.20" height="6.85" fill="url(#K2)"/>
<rect transform="translate(0 452.55)" x="1062.60" y="0" width="162.10" height="6.85" fill="url(#F2)"/>
<rect transform="translate(0 459.40)" x="1009.10" y="0.5" width="215.60" height="5.85" fill="url(#K3)" stroke="#7a7a7a" stroke-width="1"/>
<rect transform="translate(0 459.40)" x="1050.70" y="0.5" width="174.00" height="5.85" fill="url(#F3)" stroke="#7a7a7a" stroke-width="1"/>
<path d="M1764.40 24.93 H1876.00" stroke="#8a8a8a" stroke-width="1.7"/>
<path d="M1876.00 21.93 V27.93" stroke="#6a6a6a" stroke-width="1.8"/>
<path d="M1752.60 31.78 H1850.90" stroke="#8a8a8a" stroke-width="1.7"/>
<path d="M1850.90 28.78 V34.78" stroke="#6a6a6a" stroke-width="1.8"/>
<path d="M1732.60 38.62 H1827.10" stroke="#8a8a8a" stroke-width="1.7"/>
<path d="M1827.10 35.62 V41.62" stroke="#6a6a6a" stroke-width="1.8"/>
<path d="M1717.10 51.72 H1828.20" stroke="#8a8a8a" stroke-width="1.7"/>
<path d="M1828.20 48.72 V54.72" stroke="#6a6a6a" stroke-width="1.8"/>
<path d="M1707.80 58.57 H1808.40" stroke="#8a8a8a" stroke-width="1.7"/>
<path d="M1808.40 55.57 V61.57" stroke="#6a6a6a" stroke-width="1.8"/>
<path d="M1723.80 65.42 H1823.10" stroke="#8a8a8a" stroke-width="1.7"/>
<path d="M1823.10 62.42 V68.42" stroke="#6a6a6a" stroke-width="1.8"/>
<path d="M1412.70 85.52 H1469.50" stroke="#8a8a8a" stroke-width="1.7"/>
<path d="M1469.50 82.52 V88.52" stroke="#6a6a6a" stroke-width="1.8"/>
<path d="M1415.30 92.37 H1473.60" stroke="#8a8a8a" stroke-width="1.7"/>
<path d="M1473.60 89.37 V95.37" stroke="#6a6a6a" stroke-width="1.8"/>
<path d="M1406.00 99.22 H1457.70" stroke="#8a8a8a" stroke-width="1.7"/>
<path d="M1457.70 96.22 V102.22" stroke="#6a6a6a" stroke-width="1.8"/>
<path d="M1409.60 112.32 H1451.90" stroke="#8a8a8a" stroke-width="1.7"/>
<path d="M1451.90 109.32 V115.32" stroke="#6a6a6a" stroke-width="1.8"/>
<path d="M1408.60 119.17 H1457.70" stroke="#8a8a8a" stroke-width="1.7"/>
<path d="M1457.70 116.17 V122.17" stroke="#6a6a6a" stroke-width="1.8"/>
<path d="M1414.30 126.02 H1465.90" stroke="#8a8a8a" stroke-width="1.7"/>
<path d="M1465.90 123.02 V129.02" stroke="#6a6a6a" stroke-width="1.8"/>
<path d="M1576.50 146.12 H1644.60" stroke="#8a8a8a" stroke-width="1.7"/>
<path d="M1644.60 143.12 V149.12" stroke="#6a6a6a" stroke-width="1.8"/>
<path d="M1563.60 152.97 H1622.50" stroke="#8a8a8a" stroke-width="1.7"/>
<path d="M1622.50 149.97 V155.97" stroke="#6a6a6a" stroke-width="1.8"/>
<path d="M1551.40 159.82 H1606.70" stroke="#8a8a8a" stroke-width="1.7"/>
<path d="M1606.70 156.82 V162.82" stroke="#6a6a6a" stroke-width="1.8"/>
<path d="M1533.10 172.93 H1614.20" stroke="#8a8a8a" stroke-width="1.7"/>
<path d="M1614.20 169.93 V175.93" stroke="#6a6a6a" stroke-width="1.8"/>
<path d="M1524.60 179.78 H1585.90" stroke="#8a8a8a" stroke-width="1.7"/>
<path d="M1585.90 176.78 V182.78" stroke="#6a6a6a" stroke-width="1.8"/>
<path d="M1534.70 186.62 H1602.80" stroke="#8a8a8a" stroke-width="1.7"/>
<path d="M1602.80 183.62 V189.62" stroke="#6a6a6a" stroke-width="1.8"/>
<path d="M1682.80 206.73 H1718.50" stroke="#8a8a8a" stroke-width="1.7"/>
<path d="M1718.50 203.73 V209.73" stroke="#6a6a6a" stroke-width="1.8"/>
<path d="M1676.50 213.58 H1720.20" stroke="#8a8a8a" stroke-width="1.7"/>
<path d="M1720.20 210.58 V216.58" stroke="#6a6a6a" stroke-width="1.8"/>
<path d="M1685.80 220.43 H1703.70" stroke="#8a8a8a" stroke-width="1.7"/>
<path d="M1703.70 217.43 V223.43" stroke="#6a6a6a" stroke-width="1.8"/>
<path d="M1659.50 233.53 H1700.70" stroke="#8a8a8a" stroke-width="1.7"/>
<path d="M1700.70 230.53 V236.53" stroke="#6a6a6a" stroke-width="1.8"/>
<path d="M1659.00 240.38 H1701.40" stroke="#8a8a8a" stroke-width="1.7"/>
<path d="M1701.40 237.38 V243.38" stroke="#6a6a6a" stroke-width="1.8"/>
<path d="M1660.50 247.23 H1708.90" stroke="#8a8a8a" stroke-width="1.7"/>
<path d="M1708.90 244.23 V250.23" stroke="#6a6a6a" stroke-width="1.8"/>
<path d="M1750.00 267.32 H1863.70" stroke="#8a8a8a" stroke-width="1.7"/>
<path d="M1863.70 264.32 V270.32" stroke="#6a6a6a" stroke-width="1.8"/>
<path d="M1764.40 274.18 H1890.10" stroke="#8a8a8a" stroke-width="1.7"/>
<path d="M1890.10 271.18 V277.18" stroke="#6a6a6a" stroke-width="1.8"/>
<path d="M1714.80 281.02 H1802.00" stroke="#8a8a8a" stroke-width="1.7"/>
<path d="M1802.00 278.02 V284.02" stroke="#6a6a6a" stroke-width="1.8"/>
<path d="M1468.80 294.12 H1523.80" stroke="#8a8a8a" stroke-width="1.7"/>
<path d="M1523.80 291.12 V297.12" stroke="#6a6a6a" stroke-width="1.8"/>
<path d="M1479.80 300.98 H1550.20" stroke="#8a8a8a" stroke-width="1.7"/>
<path d="M1550.20 297.98 V303.98" stroke="#6a6a6a" stroke-width="1.8"/>
<path d="M1463.80 307.82 H1510.50" stroke="#8a8a8a" stroke-width="1.7"/>
<path d="M1510.50 304.82 V310.82" stroke="#6a6a6a" stroke-width="1.8"/>
<path d="M1407.80 327.93 H1453.70" stroke="#8a8a8a" stroke-width="1.7"/>
<path d="M1453.70 324.93 V330.93" stroke="#6a6a6a" stroke-width="1.8"/>
<path d="M1403.00 334.78 H1457.80" stroke="#8a8a8a" stroke-width="1.7"/>
<path d="M1457.80 331.78 V337.78" stroke="#6a6a6a" stroke-width="1.8"/>
<path d="M1383.60 341.62 H1412.40" stroke="#8a8a8a" stroke-width="1.7"/>
<path d="M1412.40 338.62 V344.62" stroke="#6a6a6a" stroke-width="1.8"/>
<path d="M1360.80 354.73 H1401.10" stroke="#8a8a8a" stroke-width="1.7"/>
<path d="M1401.10 351.73 V357.73" stroke="#6a6a6a" stroke-width="1.8"/>
<path d="M1366.70 361.58 H1410.90" stroke="#8a8a8a" stroke-width="1.7"/>
<path d="M1410.90 358.58 V364.58" stroke="#6a6a6a" stroke-width="1.8"/>
<path d="M1346.40 368.43 H1374.60" stroke="#8a8a8a" stroke-width="1.7"/>
<path d="M1374.60 365.43 V371.43" stroke="#6a6a6a" stroke-width="1.8"/>
<path d="M1075.00 388.53 H1050.50" stroke="#8a8a8a" stroke-width="1.7"/>
<path d="M1050.50 385.53 V391.53" stroke="#6a6a6a" stroke-width="1.8"/>
<path d="M1069.40 395.38 H1051.50" stroke="#8a8a8a" stroke-width="1.7"/>
<path d="M1051.50 392.38 V398.38" stroke="#6a6a6a" stroke-width="1.8"/>
<path d="M1068.30 402.23 H1048.80" stroke="#8a8a8a" stroke-width="1.7"/>
<path d="M1048.80 399.23 V405.23" stroke="#6a6a6a" stroke-width="1.8"/>
<path d="M1020.60 449.12 H991.10" stroke="#8a8a8a" stroke-width="1.7"/>
<path d="M991.10 446.12 V452.12" stroke="#6a6a6a" stroke-width="1.8"/>
<path d="M1024.50 455.98 H987.60" stroke="#8a8a8a" stroke-width="1.7"/>
<path d="M987.60 452.98 V458.98" stroke="#6a6a6a" stroke-width="1.8"/>
<path d="M1009.10 462.82 H968.00" stroke="#8a8a8a" stroke-width="1.7"/>
<path d="M968.00 459.82 V465.82" stroke="#6a6a6a" stroke-width="1.8"/>
<line x1="1224.70" y1="15" x2="1224.70" y2="500" stroke="#bfbfbf" stroke-width="1.3"/>
<text x="1118.89" y="38.80" font-size="14.00" font-weight="normal" fill="#262626" textLength="30.13" lengthAdjust="spacingAndGlyphs" stroke="#262626" stroke-width="0.55">EDVi</text>
<text x="1109.11" y="57.90" font-size="14.00" font-weight="normal" fill="#262626" textLength="49.49" lengthAdjust="spacingAndGlyphs" stroke="#262626" stroke-width="0.55">(ml/m²)</text>
<text x="1188.28" y="36.50" font-size="14.00" font-weight="normal" fill="#262626" textLength="14.90" lengthAdjust="spacingAndGlyphs" stroke="#262626" stroke-width="0.55">LV</text>
<text x="1188.30" y="63.40" font-size="14.00" font-weight="normal" fill="#262626" textLength="16.47" lengthAdjust="spacingAndGlyphs" stroke="#262626" stroke-width="0.55">RV</text>
<text x="1120.97" y="96.70" font-size="14.00" font-weight="normal" fill="#262626" textLength="27.18" lengthAdjust="spacingAndGlyphs" stroke="#262626" stroke-width="0.55">ESVi</text>
<text x="1109.59" y="115.30" font-size="14.00" font-weight="normal" fill="#262626" textLength="50.11" lengthAdjust="spacingAndGlyphs" stroke="#262626" stroke-width="0.55">(ml/m²)</text>
<text x="1188.27" y="97.30" font-size="14.00" font-weight="normal" fill="#262626" textLength="15.01" lengthAdjust="spacingAndGlyphs" stroke="#262626" stroke-width="0.55">LV</text>
<text x="1187.88" y="124.20" font-size="14.00" font-weight="normal" fill="#262626" textLength="16.90" lengthAdjust="spacingAndGlyphs" stroke="#262626" stroke-width="0.55">RV</text>
<text x="1124.08" y="158.80" font-size="14.00" font-weight="normal" fill="#262626" textLength="20.54" lengthAdjust="spacingAndGlyphs" stroke="#262626" stroke-width="0.55">SVi</text>
<text x="1109.29" y="178.50" font-size="14.00" font-weight="normal" fill="#262626" textLength="50.43" lengthAdjust="spacingAndGlyphs" stroke="#262626" stroke-width="0.55">(ml/m²)</text>
<text x="1188.30" y="156.70" font-size="14.00" font-weight="normal" fill="#262626" textLength="14.47" lengthAdjust="spacingAndGlyphs" stroke="#262626" stroke-width="0.55">LV</text>
<text x="1185.81" y="184.20" font-size="14.00" font-weight="normal" fill="#262626" textLength="16.37" lengthAdjust="spacingAndGlyphs" stroke="#262626" stroke-width="0.55">RV</text>
<text x="1132.08" y="219.80" font-size="14.00" font-weight="normal" fill="#262626" textLength="13.99" lengthAdjust="spacingAndGlyphs" stroke="#262626" stroke-width="0.55">EF</text>
<text x="1128.40" y="240.10" font-size="14.00" font-weight="normal" fill="#262626" textLength="21.90" lengthAdjust="spacingAndGlyphs" stroke="#262626" stroke-width="0.55">(%)</text>
<text x="1187.28" y="218.80" font-size="14.00" font-weight="normal" fill="#262626" textLength="14.90" lengthAdjust="spacingAndGlyphs" stroke="#262626" stroke-width="0.55">LV</text>
<text x="1186.31" y="245.70" font-size="14.00" font-weight="normal" fill="#262626" textLength="16.26" lengthAdjust="spacingAndGlyphs" stroke="#262626" stroke-width="0.55">RV</text>
<text x="1127.96" y="283.60" font-size="14.00" font-weight="normal" fill="#262626" textLength="23.41" lengthAdjust="spacingAndGlyphs" stroke="#262626" stroke-width="0.55">TMi</text>
<text x="1119.03" y="302.60" font-size="14.00" font-weight="normal" fill="#262626" textLength="40.64" lengthAdjust="spacingAndGlyphs" stroke="#262626" stroke-width="0.55">(g/m²)</text>
<text x="1187.28" y="280.90" font-size="14.00" font-weight="normal" fill="#262626" textLength="14.90" lengthAdjust="spacingAndGlyphs" stroke="#262626" stroke-width="0.55">LV</text>
<text x="1186.31" y="306.70" font-size="14.00" font-weight="normal" fill="#262626" textLength="16.26" lengthAdjust="spacingAndGlyphs" stroke="#262626" stroke-width="0.55">RV</text>
<text x="1121.15" y="339.80" font-size="14.00" font-weight="normal" fill="#262626" textLength="33.33" lengthAdjust="spacingAndGlyphs" stroke="#262626" stroke-width="0.55">TPMi</text>
<text x="1117.43" y="359.50" font-size="14.00" font-weight="normal" fill="#262626" textLength="40.64" lengthAdjust="spacingAndGlyphs" stroke="#262626" stroke-width="0.55">(g/m²)</text>
<text x="1185.18" y="339.30" font-size="14.00" font-weight="normal" fill="#262626" textLength="14.90" lengthAdjust="spacingAndGlyphs" stroke="#262626" stroke-width="0.55">LV</text>
<text x="1184.99" y="366.40" font-size="14.00" font-weight="normal" fill="#262626" textLength="16.69" lengthAdjust="spacingAndGlyphs" stroke="#262626" stroke-width="0.55">RV</text>
<text x="1242.25" y="398.30" font-size="14.00" font-weight="normal" fill="#262626" textLength="40.46" lengthAdjust="spacingAndGlyphs" stroke="#262626" stroke-width="0.55">LVGLS</text>
<text x="1252.31" y="417.20" font-size="14.00" font-weight="normal" fill="#262626" textLength="19.18" lengthAdjust="spacingAndGlyphs" stroke="#262626" stroke-width="0.55">(%)</text>
<text x="1239.25" y="455.20" font-size="14.00" font-weight="normal" fill="#262626" textLength="42.45" lengthAdjust="spacingAndGlyphs" stroke="#262626" stroke-width="0.55">LVGCS</text>
<text x="1250.27" y="474.00" font-size="14.00" font-weight="normal" fill="#262626" textLength="20.27" lengthAdjust="spacingAndGlyphs" stroke="#262626" stroke-width="0.55">(%)</text>
<text x="931.81" y="528.70" font-size="16.80" font-weight="normal" fill="#404040" textLength="25.58" lengthAdjust="spacingAndGlyphs" stroke="#404040" stroke-width="0.4">-40</text>
<text x="1072.23" y="528.70" font-size="16.80" font-weight="normal" fill="#404040" textLength="25.15" lengthAdjust="spacingAndGlyphs" stroke="#404040" stroke-width="0.4">-20</text>
<text x="1219.98" y="528.70" font-size="16.80" font-weight="normal" fill="#404040" textLength="10.24" lengthAdjust="spacingAndGlyphs" stroke="#404040" stroke-width="0.4">0</text>
<text x="1355.45" y="528.70" font-size="16.80" font-weight="normal" fill="#404040" textLength="18.70" lengthAdjust="spacingAndGlyphs" stroke="#404040" stroke-width="0.4">20</text>
<text x="1495.30" y="528.70" font-size="16.80" font-weight="normal" fill="#404040" textLength="19.17" lengthAdjust="spacingAndGlyphs" stroke="#404040" stroke-width="0.4">40</text>
<text x="1635.23" y="528.70" font-size="16.80" font-weight="normal" fill="#404040" textLength="19.15" lengthAdjust="spacingAndGlyphs" stroke="#404040" stroke-width="0.4">60</text>
<text x="1775.36" y="528.70" font-size="16.80" font-weight="normal" fill="#404040" textLength="19.01" lengthAdjust="spacingAndGlyphs" stroke="#404040" stroke-width="0.4">80</text>
<text x="1910.88" y="528.70" font-size="16.80" font-weight="normal" fill="#404040" textLength="28.90" lengthAdjust="spacingAndGlyphs" stroke="#404040" stroke-width="0.4">100</text>
<rect x="1808.5" y="359.00" width="9" height="9" fill="url(#F1)" stroke="#555" stroke-width="1"/>
<text x="1820.54" y="368.20" font-size="13.80" font-weight="normal" fill="#555" textLength="90.05" lengthAdjust="spacingAndGlyphs" stroke="#555" stroke-width="0.35">Pathogenic LV</text>
<rect x="1808.5" y="386.06" width="9" height="9" fill="url(#F2)" stroke="#555" stroke-width="1"/>
<text x="1821.62" y="395.26" font-size="13.80" font-weight="normal" fill="#555" textLength="43.26" lengthAdjust="spacingAndGlyphs" stroke="#555" stroke-width="0.35">VUS LV</text>
<rect x="1808.5" y="413.12" width="9" height="9" fill="url(#F3)" stroke="#8c8c8c" stroke-width="1"/>
<text x="1820.56" y="422.32" font-size="13.80" font-weight="normal" fill="#555" textLength="62.83" lengthAdjust="spacingAndGlyphs" stroke="#555" stroke-width="0.35">Benign LV</text>
<rect x="1808.5" y="440.18" width="9" height="9" fill="url(#F4)" stroke="#555" stroke-width="1"/>
<text x="1820.54" y="449.38" font-size="13.80" font-weight="normal" fill="#555" textLength="92.04" lengthAdjust="spacingAndGlyphs" stroke="#555" stroke-width="0.35">Pathogenic RV</text>
<rect x="1808.5" y="467.24" width="9" height="9" fill="url(#F5)" stroke="#8c8c8c" stroke-width="1"/>
<text x="1821.62" y="476.44" font-size="13.80" font-weight="normal" fill="#555" textLength="46.26" lengthAdjust="spacingAndGlyphs" stroke="#555" stroke-width="0.35">VUS RV</text>
<rect x="1808.5" y="494.30" width="9" height="9" fill="url(#F6)" stroke="#8c8c8c" stroke-width="1"/>
<text x="1820.57" y="503.50" font-size="13.80" font-weight="normal" fill="#555" textLength="64.31" lengthAdjust="spacingAndGlyphs" stroke="#555" stroke-width="0.35">Benign RV</text>
<text x="910.93" y="33.80" font-size="44.20" font-weight="bold" fill="#000" textLength="28.77" lengthAdjust="spacingAndGlyphs">B</text>
<text x="1911.83" y="569.90" font-size="13.50" font-weight="bold" fill="#111" textLength="31.21" lengthAdjust="spacingAndGlyphs">p=ns</text>
</svg></body></html>
